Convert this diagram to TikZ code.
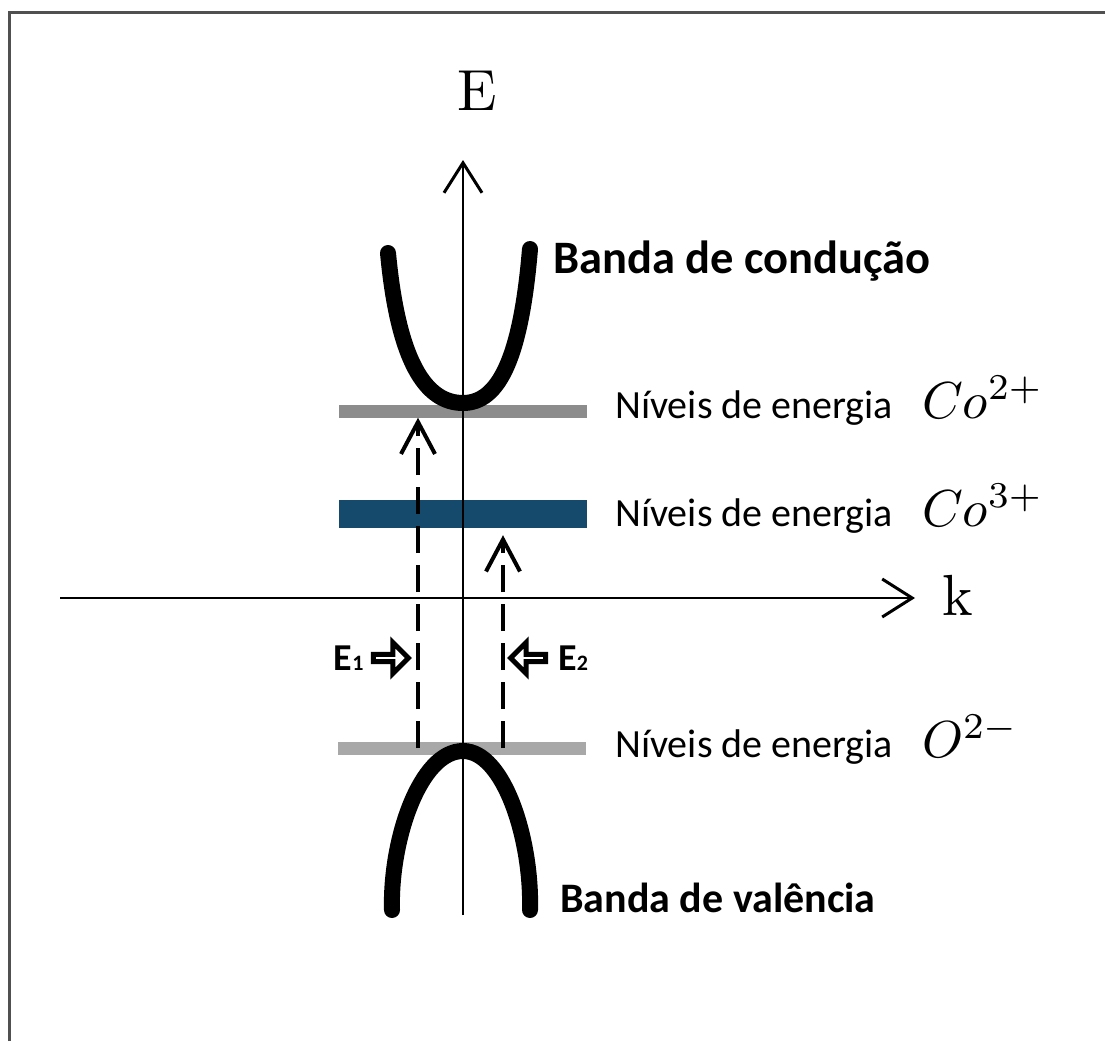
\documentclass[tikz,border=0pt]{standalone}
\usepackage{graphicx}
\usepackage[no-math]{fontspec}
\setmainfont{Carlito}
\usepackage{tikz}
\usetikzlibrary{positioning,arrows.meta,shapes.arrows}

\definecolor{cobalt3}{RGB}{22,74,108}
\definecolor{co2gray}{RGB}{140,140,140}
\definecolor{o2gray}{RGB}{168,168,168}
\definecolor{frameGray}{RGB}{80,80,80}
\newcommand{\bigmath}[2]{\scalebox{#1}{\normalsize$#2$}}

\begin{document}
\begin{tikzpicture}[
  x=1pt, y=-1pt,
  band/.style={line width=16pt, line cap=round},
  level/.style={rectangle, inner sep=0pt, minimum width=248pt},
  axis/.style={line width=2.5pt, -{Straight Barb[length=30pt, width=38pt, line width=3pt]}},
  excite/.style={line width=4pt, dash pattern=on 27pt off 12pt,
                 -{Straight Barb[length=32pt, width=34pt, line width=4pt]}},
  hollow/.style={single arrow, draw, line width=5pt, fill=white, inner sep=0pt,
                 minimum height=35pt, minimum width=31pt, single arrow head extend=8pt},
  lvltext/.style={anchor=base west, inner sep=0pt, font=\fontsize{40}{46}\selectfont},
  bandtext/.style={anchor=base west, inner sep=0pt, font=\fontsize{46.5}{52}\selectfont\bfseries},
  axtext/.style={anchor=base, inner sep=0pt},
  elabel/.style={inner sep=0pt, font=\fontsize{38}{42}\selectfont\bfseries}
]
  \useasboundingbox (0,0) rectangle (1105,1041);
  % frame
  \draw[frameGray, line width=3pt] (9,1041) -- (9,13) -- (1105,13);

  % levels
  \node[level, fill=co2gray, minimum height=13pt] (co2) at (463,411) {};
  \node[level, fill=cobalt3, minimum height=28pt] (co3) at (463,514) {};
  \node[level, fill=o2gray, minimum height=13pt] (o2) at (462,748) {};

  % axes
  \coordinate (kend) at (915,598);
  \coordinate (eend) at (463,160);
  \draw[axis] (60,598) -- (kend);
  \draw[axis] (463,915) -- (eend);
  \node[axtext] (elbl) at (477,110) {\bigmath{5.8}{\mathrm{E}}};
  \node[axtext] (klbl) at (958,615) {\bigmath{5.8}{\mathrm{k}}};

  % bands
  \draw[band] (388,253) .. controls (398,360) and (425,403) .. (463,403)
              .. controls (499,403) and (521,357) .. (530,249);
  \draw[band] (392,910) .. controls (390,840) and (420,751) .. (463,751)
              .. controls (504,751) and (532,840) .. (530,910);

  % transitions
  \coordinate (xe1) at (418,0);
  \coordinate (xe2) at (503,0);
  \draw[excite] (o2.center -| xe1) -- (co2.south -| xe1);
  \draw[excite] (o2.center -| xe2) -- ([yshift=-7pt]co3.south -| xe2);

  \node[hollow] (arr1) at (389,658) {};
  \node[hollow, shape border rotate=180] (arr2) at (530,658) {};
  \node[elabel, left=7pt of arr1] (e1) {E{\fontsize{22}{24}\selectfont 1}};
  \node[elabel, right=10pt of arr2] (e2) {E{\fontsize{22}{24}\selectfont 2}};

  % labels
  \node[bandtext] (cond) at (553,273) {Banda de condução};
  \node[bandtext, font=\fontsize{42}{48}\selectfont\bfseries] (val) at (560,912) {Banda de valência};
  \node[lvltext] (t2) at (615,418) {Níveis de energia\hspace{29pt}\bigmath{5.2}{Co^{2+}}};
  \node[lvltext] (t3) at (615,526) {Níveis de energia\hspace{29pt}\bigmath{5.2}{Co^{3+}}};
  \node[lvltext] (t1) at (615,757) {Níveis de energia\hspace{29pt}\bigmath{5.2}{O^{2-}}};
\end{tikzpicture}
\end{document}
